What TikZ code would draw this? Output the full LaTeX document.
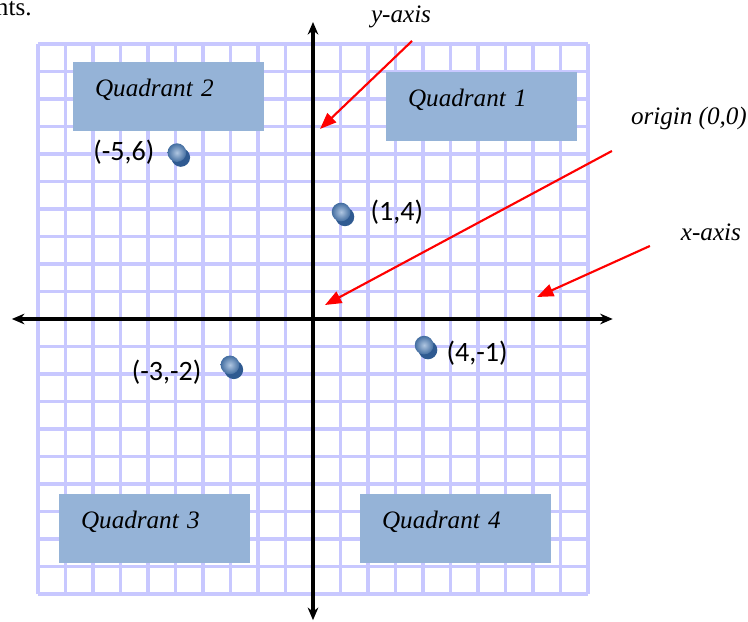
\documentclass[tikz,border=0pt]{standalone}
\usepackage{fontspec}
\setmainfont{Liberation Serif}
\newfontfamily\ptfont{Carlito}
\usepackage{xcolor}
\definecolor{cGrid}{RGB}{200,200,255}
\definecolor{cBox}{HTML}{95B3D7}
\definecolor{cDot}{HTML}{4F81BD}
\definecolor{cDotDark}{HTML}{2F5A91}
\definecolor{cNote}{HTML}{FF0000}
\usepackage{tikz}
\usetikzlibrary{positioning,arrows.meta,shadows}
\tikzset{
  grid-line/.style={draw=cGrid,line width=2pt},
  axis-line/.style={{Stealth[length=6.5pt,width=5.5pt]}-{Stealth[length=6.5pt,width=5.5pt]},
    line width=2pt,draw=black},
  quad-box/.style={fill=cBox,minimum width=3.47cm,minimum height=1.255cm,
    text width=2.67cm,inner xsep=0.4cm,inner ysep=0pt,align=left,
    text height=0.62cm,text depth=0.635cm,font=\fontsize{13}{15}\selectfont\itshape},
  pt-dot/.style={circle,minimum size=0.34cm,inner sep=0pt,shading=radial,
    inner color=cDot!45!white,outer color=cDot!85!black,
    drop shadow={fill=cDotDark,shadow xshift=2pt,shadow yshift=-2.5pt,opacity=1}},
  pt-label/.style={inner sep=1pt,font=\ptfont\fontsize{14.5}{16}\selectfont},
  note-text/.style={inner sep=1pt,font=\fontsize{13}{15}\selectfont\itshape},
  arrow-note/.style={-{Triangle[length=8.5pt,width=6.5pt]},line width=1.1pt,draw=cNote},
}

\begin{document}
\begin{tikzpicture}[x=0.5cm,y=0.5cm]
  \useasboundingbox (-11.382,-10.982) rectangle (15.818,11.6);
  \node[anchor=base east,inner sep=0pt,font=\fontsize{13}{15}\selectfont] (tail) at (-10.22,11.05) {nts.};
  % grid paper
  \foreach \i in {-10,...,10} {
    \draw[grid-line] (\i,-10) -- (\i,10);
    \draw[grid-line] (-10,\i) -- (10,\i);
  }
  \node[quad-box] (q2) at (-5.255,8.09) {Quadrant 2};
  \node[quad-box] (q1) at (6.127,7.727) {Quadrant 1};
  \node[quad-box] (q3) at (-5.764,-7.618) {Quadrant 3};
  \node[quad-box] (q4) at (5.182,-7.618) {Quadrant 4};
  \draw[axis-line] (-10.95,0) -- (10.9,0);
  \draw[axis-line] (0,-10.95) -- (0,10.8);
  \node[pt-dot] (d56) at (-4.95,6.05) {};
  \node[pt-dot] (d14) at (1.02,3.89) {};
  \node[pt-dot] (d41) at (4.04,-0.95) {};
  \node[pt-dot] (d32) at (-3.02,-1.67) {};
  \node[pt-label,left=0.19cm of d56] (l56) {(-5,6)};
  \node[pt-label,right=0.32cm of d14] (l14) {(1,4)};
  \node[pt-label,right=0.19cm of d41,yshift=-0.14cm] (l41) {(4,-1)};
  \node[pt-label,left=0.3cm of d32,yshift=-0.14cm] (l32) {(-3,-2)};
  \node[note-text] (ynote) at (3.2,11.0) {y-axis};
  \node[note-text] (onote) at (13.67,7.31) {origin (0,0)};
  \node[note-text] (xnote) at (14.47,3.16) {x-axis};
  \coordinate (ynote-from) at (3.6,10.11);
  \coordinate (ynote-to) at (0.255,6.91);
  \coordinate (onote-from) at (10.87,6.11);
  \coordinate (onote-to) at (0.436,0.509);
  \coordinate (xnote-from) at (12.25,2.655);
  \coordinate (xnote-to) at (8.145,0.8);
  \draw[arrow-note] (ynote-from) -- (ynote-to);
  \draw[arrow-note] (onote-from) -- (onote-to);
  \draw[arrow-note] (xnote-from) -- (xnote-to);
\end{tikzpicture}
\end{document}
